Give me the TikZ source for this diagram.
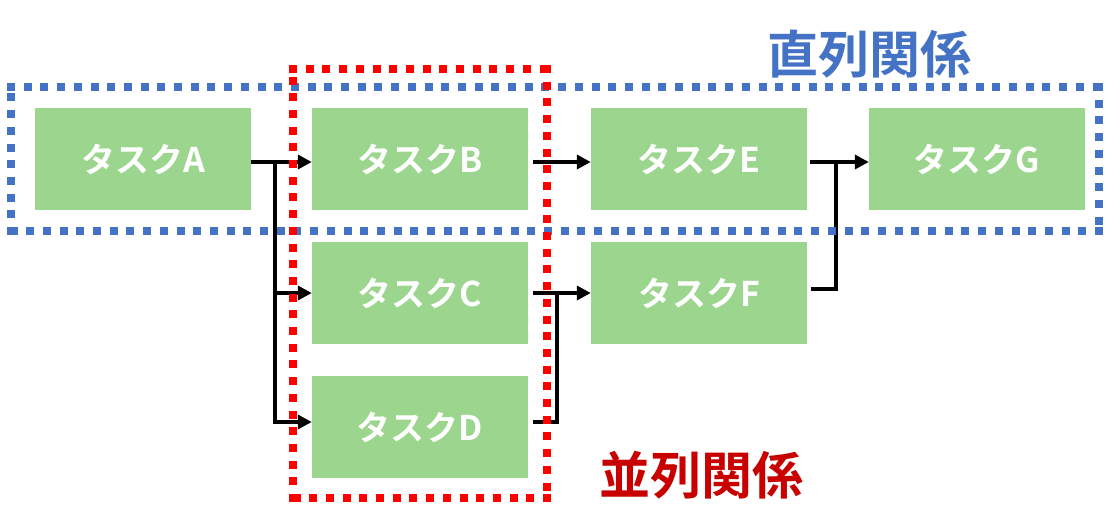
\documentclass[tikz,border=0pt]{standalone}
\usepackage{fontspec}
\newfontfamily\jp{Noto Sans CJK JP}[BoldFont={* Bold}]
\usetikzlibrary{arrows.meta}
\definecolor{boxgreen}{RGB}{156,214,142}
\definecolor{serblue}{RGB}{68,114,196}
\definecolor{parred}{RGB}{255,0,0}
\definecolor{partext}{RGB}{200,0,0}
\tikzset{
  task/.style={fill=boxgreen, draw=none, minimum width=216pt, minimum height=102pt, inner sep=0pt,
    text=white, font=\jp\bfseries\fontsize{34}{38}\selectfont},
  conn/.style={line width=3.6pt, draw=black},
  arr/.style={conn, -{Triangle[length=14pt,width=14pt]}},
  dotbox/.style={line width=8pt, dash pattern=on 8pt off 8.7pt},
  title/.style={font=\jp\bfseries\fontsize{51}{56}\selectfont, inner sep=0pt}
}
\begin{document}
\begin{tikzpicture}[x=1pt,y=-1pt]
\useasboundingbox (0,0) rectangle (1116,530);
\node[task] (A) at (143,159) {タスクA};
\node[task] (B) at (420,159) {タスクB};
\node[task] (C) at (420,293) {タスクC};
\node[task] (D) at (420,427) {タスクD};
\node[task] (E) at (699,159) {タスクE};
\node[task] (F) at (699,293) {タスクF};
\node[task] (G) at (977,159) {タスクG};
\coordinate (j1) at (275,162);
\coordinate (j2) at (557,293);
\coordinate (j3) at (836,162);
\draw[arr] ([yshift=-3pt]A.east) -- ([yshift=-3pt]B.west);
\draw[arr] (j1) |- (C.west);
\draw[arr] (j1) |- ([yshift=5pt]D.west);
\draw[arr, shorten <=5pt] ([yshift=-3pt]B.east) -- ([yshift=-3pt]E.west);
\draw[arr, shorten <=5pt] (C.east) -- (F.west);
\draw[conn, shorten <=5pt] ([yshift=5pt]D.east) -| (j2);
\draw[arr, shorten <=3pt] ([yshift=-3pt]E.east) -- ([yshift=-3pt]G.west);
\draw[conn, shorten <=4pt] ([yshift=4pt]F.east) -| (j3);
\node[title, text=serblue] (t1) at (869,54) {直列関係};
\node[title, text=partext] (t2) at (701,475) {並列関係};
% series frame (blue dotted)
\draw[dotbox, draw=serblue] (7,87) -- (1103,87);
\draw[dotbox, draw=serblue] (1099,83) -- (1099,235);
\draw[dotbox, draw=serblue] (1103,231) -- (7,231);
\draw[dotbox, draw=serblue] (11,235) -- (11,83);
% parallel frame (red dotted)
\draw[dotbox, draw=parred] (289,69) -- (551,69);
\draw[dotbox, draw=parred] (547,65) -- (547,502);
\draw[dotbox, draw=parred] (551,498) -- (289,498);
\draw[dotbox, draw=parred] (293,502) -- (293,65);
\end{tikzpicture}
\end{document}
